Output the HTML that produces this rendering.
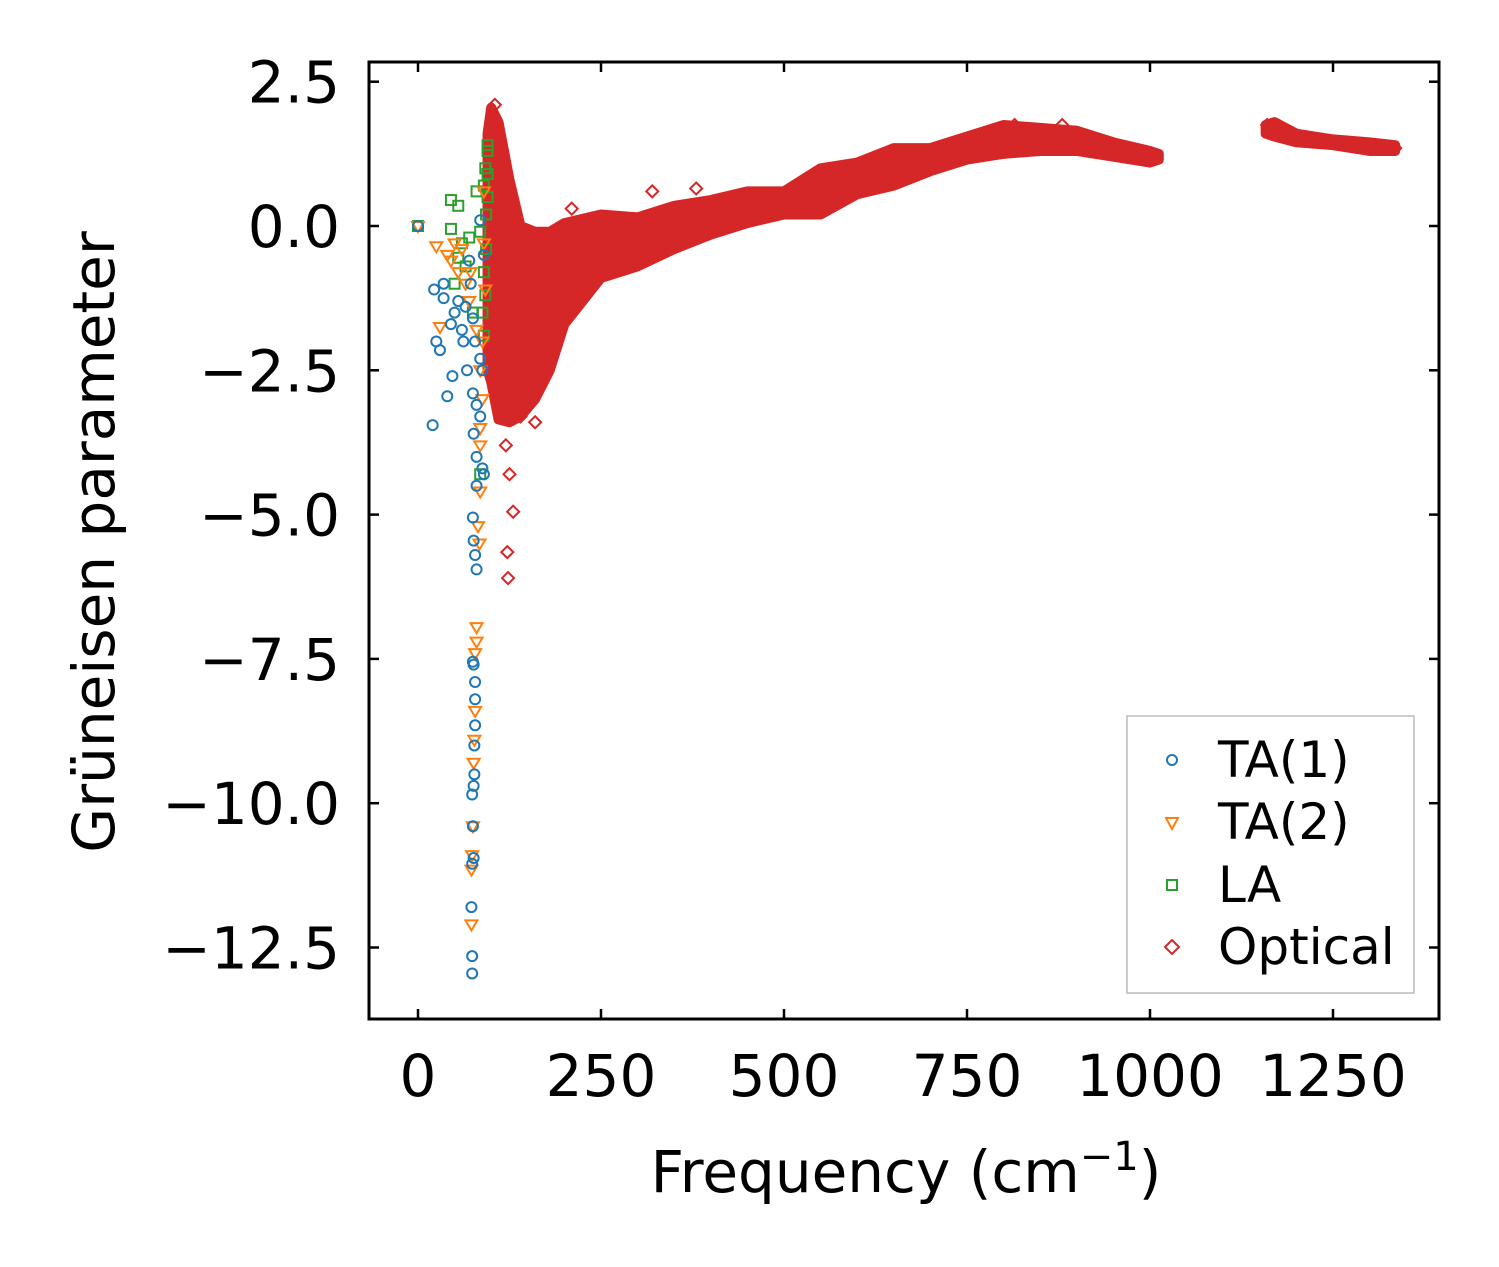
<!DOCTYPE html>
<html><head><meta charset="utf-8"><style>
body{margin:0;background:#fff}
svg{display:block;font-family:"DejaVu Sans","Liberation Sans",sans-serif}
</style></head><body>
<svg id="chart" width="1499" height="1267" viewBox="0 0 1499 1267">
<g id="marks"></g>
<rect x="369" y="62" width="1070" height="957" fill="none" stroke="#000" stroke-width="3"/>
<g id="ticks"></g>
<text x="906" y="1192" font-size="58" text-anchor="middle">Frequency (cm<tspan dy="-22" font-size="40">−1</tspan><tspan dy="22">)</tspan></text>
<text transform="translate(114,542) rotate(-90)" font-size="58" text-anchor="middle">Grüneisen parameter</text>
<g>
<rect x="1127" y="716" width="287" height="277" fill="#fff" stroke="#bbb" stroke-width="1.5"/>
<circle cx="1172" cy="760" r="5" fill="none" stroke="#1f77b4" stroke-width="2"/>
<text x="1218" y="777" font-size="50">TA(1)</text>
<path d="M1166,818 L1178,818 L1172,829 Z" fill="none" stroke="#ff7f0e" stroke-width="2"/>
<text x="1218" y="839" font-size="50">TA(2)</text>
<rect x="1167" y="880" width="10" height="10" fill="none" stroke="#2ca02c" stroke-width="2"/>
<text x="1218" y="902" font-size="50">LA</text>
<path d="M1172,940 L1179,947 L1172,954 L1165,947 Z" fill="none" stroke="#d62728" stroke-width="2"/>
<text x="1218" y="964" font-size="50">Optical</text>
</g>
</svg>
<script>
const xTicks=[0,250,500,750,1000,1250];
const yTicks=[2.5,0,-2.5,-5,-7.5,-10,-12.5];
const yTickLabels=["2.5","0.0","−2.5","−5.0","−7.5","−10.0","−12.5"];
const ta1F=[0,20,22,25,30,35,35,40,45,47,50,55,60,62,65,67,70,72,75,76,75,76,78,80,75,76,78,78,78,77,77,76,74,75,76,74,73,74,74,80,80,85,88,90,85,90,85,88,80,75,78];
const ta1G=[0,-3.45,-1.1,-2.0,-2.15,-1.0,-1.25,-2.95,-1.7,-2.6,-1.5,-1.3,-1.8,-2.0,-1.4,-2.5,-0.6,-1.0,-2.9,-3.6,-5.05,-5.45,-5.7,-5.95,-7.55,-7.6,-7.9,-8.2,-8.65,-9.0,-9.5,-9.7,-9.85,-10.4,-10.95,-11.05,-11.8,-12.65,-12.95,-4.0,-4.5,-3.3,-4.2,-4.3,0.1,-0.5,-2.3,-2.5,-3.1,-1.6,-2.0];
const ta2F=[0,25,30,40,45,50,55,60,65,70,72,80,85,88,85,85,82,84,80,80,78,78,77,76,75,74,73,73,90,90,92,88,85];
const ta2G=[0,-0.35,-1.75,-0.5,-0.6,-0.3,-0.8,-0.4,-1.0,-1.3,-0.8,-1.8,-2.5,-3.0,-3.8,-4.6,-5.2,-5.5,-6.95,-7.2,-7.4,-8.4,-8.9,-9.3,-10.4,-10.9,-11.15,-12.1,0.6,-0.3,-1.1,-2.0,-3.5];
const laF=[0,45,55,45,50,55,60,65,70,75,80,85,90,92,95,95,93,90,88,90,85,95,95,93,92];
const laG=[0,0.45,0.35,-0.05,-1.0,-0.55,-0.3,-0.7,-0.2,-1.5,0.6,-0.1,0.7,1.0,1.3,1.4,0.2,-0.8,-1.5,-1.9,-4.3,0.9,0.5,-0.4,-1.2];
const bandF1=[95,100,110,125,140,160,180,200,250,300,350,400,450,500,550,600,650,700,750,800,850,900,950,1000,1012];
const bandHi1=[1.6,2.05,1.8,0.8,0.0,-0.1,-0.1,0.05,0.2,0.15,0.35,0.45,0.6,0.6,1.0,1.1,1.35,1.35,1.55,1.75,1.7,1.65,1.45,1.3,1.25];
const bandLo1=[-2.5,-2.7,-3.35,-3.4,-3.3,-3.0,-2.5,-1.7,-0.9,-0.7,-0.4,-0.15,0.05,0.2,0.2,0.55,0.7,0.95,1.15,1.25,1.3,1.3,1.2,1.1,1.15];
const bandF2=[1158,1170,1200,1250,1300,1335];
const bandHi2=[1.75,1.8,1.6,1.5,1.45,1.4];
const bandLo2=[1.6,1.55,1.45,1.4,1.3,1.3];
const optF=[120,125,130,122,123,210,320,380,160,140,105,1160,1335,880,815];
const optG=[-3.8,-4.3,-4.95,-5.65,-6.1,0.3,0.6,0.65,-3.4,-3.3,2.1,1.75,1.35,1.75,1.75];

const X=v=>418+v*(183/250);
const Y=v=>226-v*(144.3/2.5);
const NS="http://www.w3.org/2000/svg";
const marks=document.getElementById('marks'),ticks=document.getElementById('ticks');
function mk(tag,attrs,parent){const e=document.createElementNS(NS,tag);for(const k in attrs)e.setAttribute(k,attrs[k]);parent.appendChild(e);return e;}
function band(F,H,L,name){
  let pts=F.map((f,i)=>X(f)+","+Y(H[i]));
  for(let i=F.length-1;i>=0;i--)pts.push(X(F[i])+","+Y(L[i]));
  const p=mk('polygon',{points:pts.join(' '),fill:'#d62728',stroke:'#d62728','stroke-width':10,'stroke-linejoin':'round'},marks);
  
  
}
band(bandF1,bandHi1,bandLo1,'optical-band-low');
band(bandF2,bandHi2,bandLo2,'optical-band-high');
optF.forEach((f,i)=>{const x=X(f),y=Y(optG[i]);
  const e=mk('path',{d:`M${x},${y-6}L${x+6},${y}L${x},${y+6}L${x-6},${y}Z`,fill:'none',stroke:'#d62728','stroke-width':2},marks);
  
  });
laF.forEach((f,i)=>{const x=X(f),y=Y(laG[i]);
  const e=mk('rect',{x:x-5,y:y-5,width:10,height:10,fill:'none',stroke:'#2ca02c','stroke-width':2},marks);
  
  });
ta2F.forEach((f,i)=>{const x=X(f),y=Y(ta2G[i]);
  const e=mk('path',{d:`M${x-6},${y-4}L${x+6},${y-4}L${x},${y+6}Z`,fill:'none',stroke:'#ff7f0e','stroke-width':2},marks);
  
  });
ta1F.forEach((f,i)=>{const e=mk('circle',{cx:X(f),cy:Y(ta1G[i]),r:5,fill:'none',stroke:'#1f77b4','stroke-width':2},marks);
  
  });
xTicks.forEach(v=>{const x=X(v);
  mk('line',{x1:x,y1:1019,x2:x,y2:1009,stroke:'#000','stroke-width':2.5},ticks);
  mk('line',{x1:x,y1:62,x2:x,y2:72,stroke:'#000','stroke-width':2.5},ticks);
  const t=mk('text',{x:x,y:1096,'font-size':58,'text-anchor':'middle'},ticks);t.textContent=String(v);
  
  });
yTicks.forEach((v,i)=>{const y=Y(v);
  mk('line',{x1:369,y1:y,x2:379,y2:y,stroke:'#000','stroke-width':2.5},ticks);
  mk('line',{x1:1439,y1:y,x2:1429,y2:y,stroke:'#000','stroke-width':2.5},ticks);
  const t=mk('text',{x:340,y:y+21,'font-size':58,'text-anchor':'end'},ticks);t.textContent=yTickLabels[i];
  
  });
</script>
</body></html>
